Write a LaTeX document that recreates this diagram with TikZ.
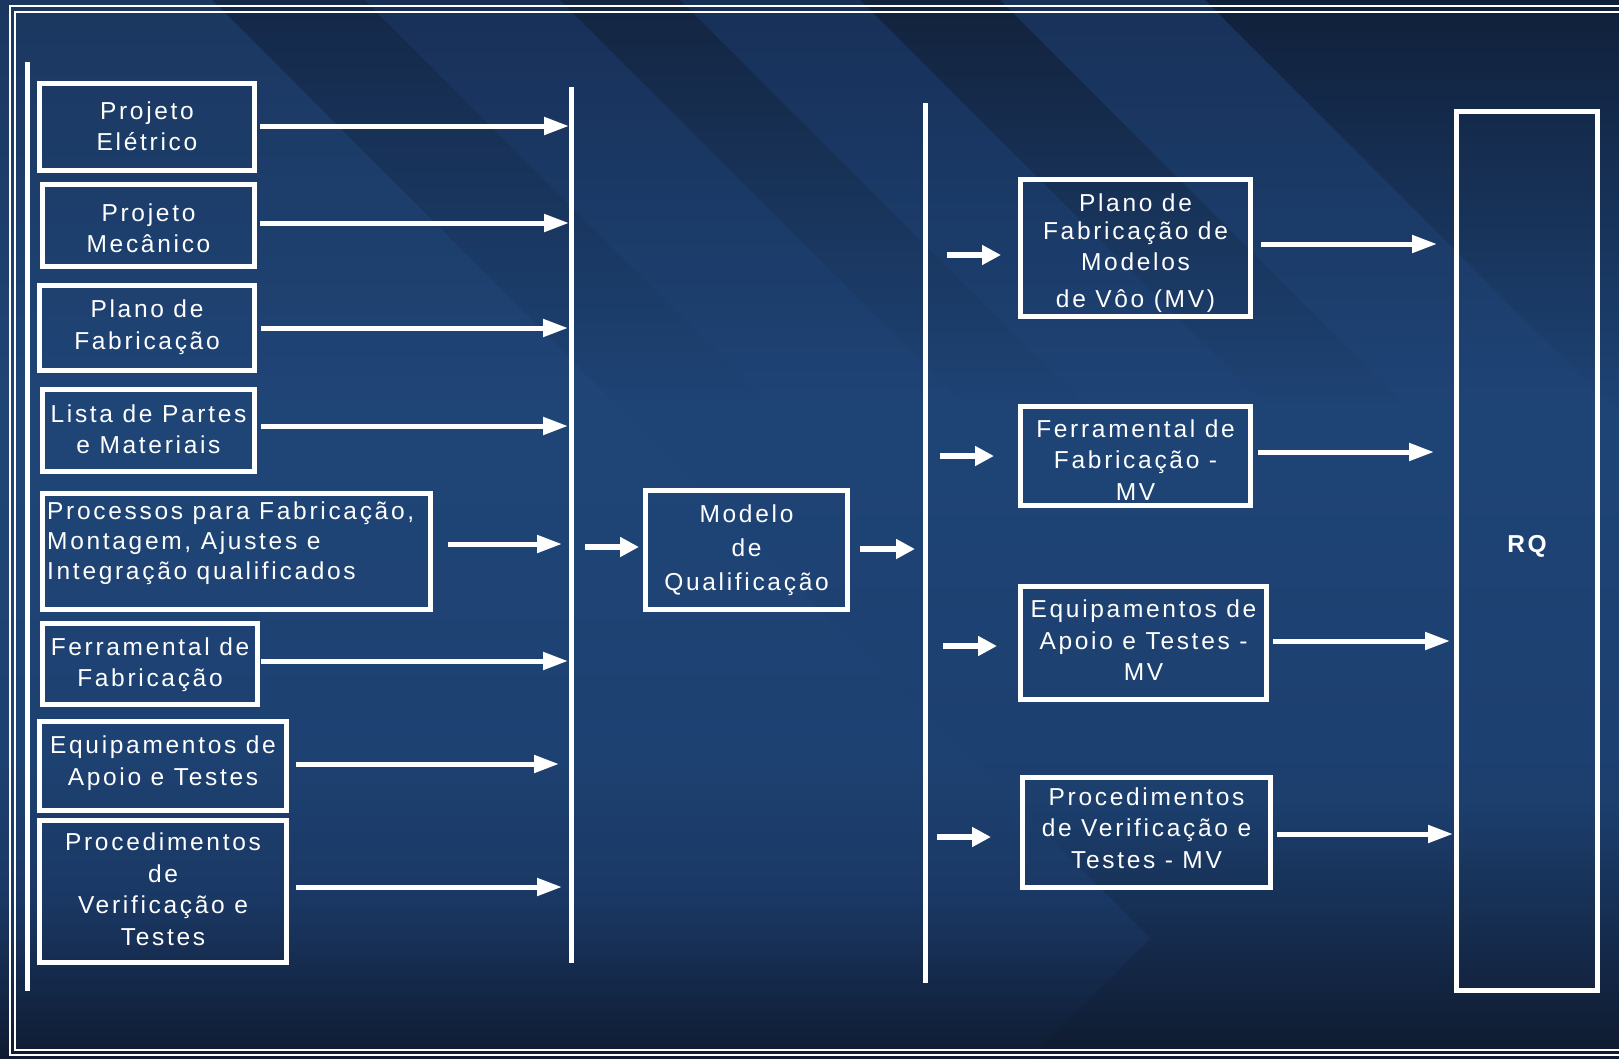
\documentclass[tikz,border=0pt]{standalone}
\usepackage{fontspec}
\setmainfont{Liberation Sans}[LetterSpace=11]
\usetikzlibrary{arrows.meta,calc}

% light chevron field (top, upper middle, lower middle, low, bottom)
\definecolor{cvTop}{HTML}{1B3760}
\definecolor{cvMid}{HTML}{1F4577}
\definecolor{cvMidB}{HTML}{1D4171}
\definecolor{cvLow}{HTML}{1A3864}
\definecolor{cvBot}{HTML}{0F1B31}
% darker field on the right
\definecolor{dkMid}{HTML}{1E4476}
\definecolor{dkLow}{HTML}{1C3F6E}
\definecolor{dkBot}{HTML}{0F1A2F}
% top colours of the diagonal bands
\definecolor{bandA}{HTML}{142848}
\definecolor{bandB}{HTML}{183058}
\definecolor{bandC}{HTML}{132541}
\definecolor{bandD}{HTML}{173058}
\definecolor{bandE}{HTML}{12223C}
\definecolor{bandF}{HTML}{183159}
\definecolor{bandG}{HTML}{10203A}

% vertical shadings; the bounding box of a shaded path spans 25bp..75bp
\pgfdeclareverticalshading{chevfield}{100bp}{color(0bp)=(cvBot); color(25bp)=(cvBot);
  color(32.5bp)=(cvLow); color(39.1bp)=(cvMidB); color(55.15bp)=(cvMid);
  color(75bp)=(cvTop); color(100bp)=(cvTop)}
\newcommand\mkbandshading[2]{%
  \pgfdeclareverticalshading{#1}{100bp}{color(0bp)=(dkBot); color(25bp)=(dkBot);
    color(37.2bp)=(dkLow); color(55.15bp)=(dkMid); color(75bp)=(#2); color(100bp)=(#2)}}
\mkbandshading{shA}{bandA}
\mkbandshading{shB}{bandB}
\mkbandshading{shC}{bandC}
\mkbandshading{shD}{bandD}
\mkbandshading{shE}{bandE}
\mkbandshading{shF}{bandF}
\mkbandshading{shG}{bandG}

\tikzset{
  box/.style={draw=white, line width=5pt, inner sep=0pt},
  bar/.style={fill=white, draw=none, inner sep=0pt, outer sep=0pt, minimum width=5pt},
  txt/.style={text=white, inner sep=0pt, align=center, font=\fontsize{24.5}{31.5}\selectfont},
  longarr/.style={draw=white, line width=5pt, -{Triangle[length=25pt,width=17pt]}},
  shortarr/.style={draw=white, line width=6pt, -{Triangle[length=19pt,width=19pt]}},
  frameline/.style={draw=white, line width=1.7pt},
}

\begin{document}
\begin{tikzpicture}[x=1pt, y=-1pt]
\useasboundingbox (0,0) rectangle (1619,1058);

% ---- background: navy chevron field with diagonal bands ----
\begin{scope}
  \clip (0,0) rectangle (1619,1058);
  \shade[shading=chevfield] (0,0) rectangle (1619,1058);
  % darker field to the right of the chevron
  \shade[shading=shE] (213,0) -- (1619,0) -- (1619,1058) -- (1031,1058) -- (1151,938) -- cycle;
  % diagonal bands, all running down to the right
  \foreach \a/\b/\s in {213/364/shA, 364/560/shB, 560/680/shC, 680/860/shD,
                        1000/1205/shF, 1205/1900/shG} {
    \shade[shading=\s] (\a,0) -- (\b,0) -- (\b+1058,1058) -- (\a+1058,1058) -- cycle;
  }
\end{scope}

% ---- double frame ----
\draw[frameline] (1619,6) -- (10,6) -- (10,1055) -- (1619,1055);
\draw[frameline] (1619,12) -- (15,12) -- (15,1050) -- (1619,1050);

% ---- vertical rails ----
\node[bar, minimum height=929] (rail) at (27,526.5) {};
\node[bar, minimum height=876] (busL) at (571,525) {};
\node[bar, minimum height=880] (busR) at (925,543) {};

% ---- input boxes ----
\node[box, minimum width=215, minimum height=87]  (b1) at (147,127) {};
\node[box, minimum width=212, minimum height=82]  (b2) at (148.5,225.5) {};
\node[box, minimum width=215, minimum height=85]  (b3) at (147,328) {};
\node[box, minimum width=212, minimum height=82]  (b4) at (148.5,430.5) {};
\node[box, minimum width=388, minimum height=116] (b5) at (236.5,551.5) {};
\node[box, minimum width=215, minimum height=81]  (b6) at (150,664) {};
\node[box, minimum width=247, minimum height=89]  (b7) at (163,766) {};
\node[box, minimum width=247, minimum height=142] (b8) at (163,891.5) {};

% ---- qualification model ----
\node[box, minimum width=202, minimum height=119] (mq) at (746.5,550) {};

% ---- flight model boxes ----
\node[box, minimum width=230, minimum height=137] (r1) at (1135.5,248) {};
\node[box, minimum width=230, minimum height=99]  (r2) at (1135.5,456) {};
\node[box, minimum width=246, minimum height=113] (r3) at (1143.5,643) {};
\node[box, minimum width=248, minimum height=110] (r4) at (1146.5,832.5) {};

% ---- RQ ----
\node[box, minimum width=141, minimum height=879] (rq) at (1527,551) {};

% ---- texts ----
\node[txt] (t1) at ($(b1)+(0,-1)$)   {Projeto\\Elétrico};
\node[txt] (t2) at ($(b2)+(0,2.5)$)  {Projeto\\Mecânico};
\node[txt] (t3) at ($(b3)+(0,-1)$)   {Plano de\\Fabricação};
\node[txt] (t4) at ($(b4)+(0,-1.5)$) {Lista de Partes\\e Materiais};
\node[txt, align=left, anchor=north west, font=\fontsize{24.5}{30}\selectfont]
  (t5) at ($(b5.north west)+(7,11)$) {Processos para Fabricação,\\Montagem, Ajustes e\\Integração qualificados};
\node[txt] (t6) at ($(b6)+(0,0.5)$)  {Ferramental de\\Fabricação};
\node[txt] (t7) at ($(b7)+(0,-2.7)$) {Equipamentos de\\Apoio e Testes};
\node[txt] (t8) at ($(b8)+(0,-2.5)$) {Procedimentos\\de\\Verificação e\\Testes};
\node[txt] (tq) at (mq) {Modelo\\[2.5pt]de\\[2.5pt]Qualificação};
\node[txt] (tr1) at ($(r1)+(0,5)$) {Plano de\\[-3pt]Fabricação de\\[-1pt]Modelos\\[6pt]de Vôo (MV)};
\node[txt] (tr2) at ($(r2)+(0,4)$) {Ferramental de\\Fabricação -\\MV};
\node[txt] (tr3) at ($(r3)+(0,-2.5)$) {Equipamentos de\\Apoio e Testes -\\MV};
\node[txt] (tr4) at ($(r4)+(0,-4.5)$) {Procedimentos\\de Verificação e\\Testes - MV};
\node[txt, font=\fontsize{24.5}{31.5}\selectfont\bfseries] (trq) at ($(rq)+(0,-5)$) {RQ};

% ---- arrows into the left rail ----
\draw[longarr] ($(b1.east)+(3,-1)$)      -- ($(b1.east -| busL.west)+(0.5,-1)$);
\draw[longarr] ($(b2.east)+(3,-2.5)$)    -- ($(b2.east -| busL.west)+(0.5,-2.5)$);
\draw[longarr] ($(b3.east)+(4,0)$)       -- ($(b3.east -| busL.west)+(-0.5,0)$);
\draw[longarr] ($(b4.east)+(4,-4.5)$)    -- ($(b4.east -| busL.west)+(-0.5,-4.5)$);
\draw[longarr] ($(b5.east)+(14.5,-7.5)$) -- ($(b5.east -| busL.west)+(-6.5,-7.5)$);
\draw[longarr] ($(b6.east)+(1,-3)$)      -- ($(b6.east -| busL.west)+(-0.5,-3)$);
\draw[longarr] ($(b7.east)+(7,-2)$)      -- ($(b7.east -| busL.west)+(-9.5,-2)$);
\draw[longarr] ($(b8.east)+(7,-4.5)$)    -- ($(b8.east -| busL.west)+(-6.5,-4.5)$);

% ---- through the qualification model ----
\draw[shortarr] ($(busL.east |- mq.west)+(11.5,-3)$) -- ($(mq.west)+(-4,-3)$);
\draw[shortarr] ($(mq.east)+(10,-1)$) -- ($(mq.east -| busR.west)+(-7.5,-1)$);

% ---- into the flight model boxes ----
\draw[shortarr] ($(busR.east |- r1.west)+(19.5,7)$)   -- ($(r1.west)+(-17,7)$);
\draw[shortarr] ($(busR.east |- r2.west)+(12.5,0)$)   -- ($(r2.west)+(-24,0)$);
\draw[shortarr] ($(busR.east |- r3.west)+(15.5,3)$)   -- ($(r3.west)+(-21,3)$);
\draw[shortarr] ($(busR.east |- r4.west)+(9.5,4.5)$)  -- ($(r4.west)+(-29,4.5)$);

% ---- into RQ ----
\draw[longarr] ($(r1.east)+(8,-4)$)  -- ($(r1.east -| rq.west)+(-17,-4)$);
\draw[longarr] ($(r2.east)+(5,-4)$)  -- ($(r2.east -| rq.west)+(-20,-4)$);
\draw[longarr] ($(r3.east)+(4,-2)$)  -- ($(r3.east -| rq.west)+(-4,-2)$);
\draw[longarr] ($(r4.east)+(4,1.5)$) -- ($(r4.east -| rq.west)+(-1,1.5)$);
\end{tikzpicture}
\end{document}
